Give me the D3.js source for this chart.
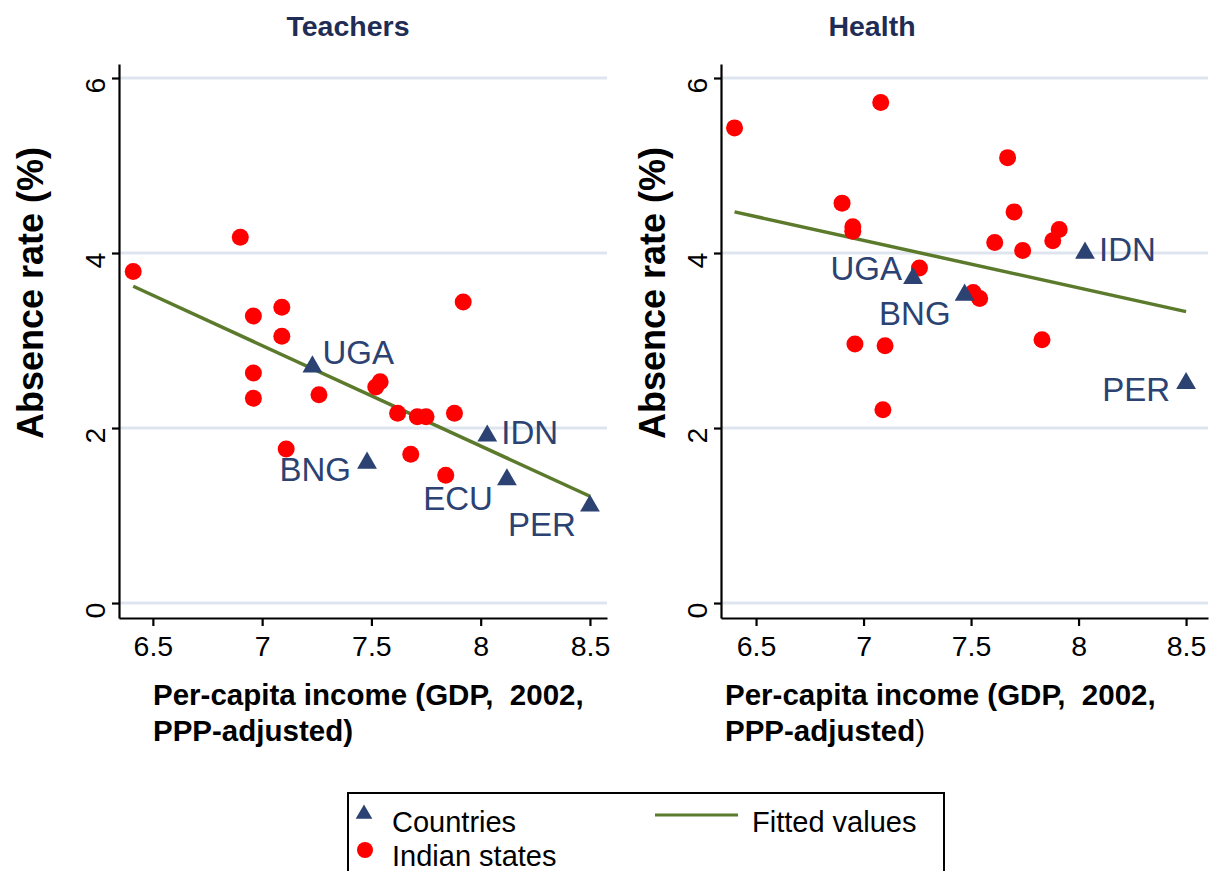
<!DOCTYPE html>
<html lang="en">
<head>
  <meta charset="UTF-8">
  <script src="https://cdnjs.cloudflare.com/ajax/libs/d3/7.8.5/d3.min.js"></script>
  <style>
    body { margin: 0; background: #fff; }
    text { font-family: "Liberation Sans", Arial, sans-serif; white-space: pre; }
  </style>
  <title>Absence rate vs income</title>
</head>
<body>
  <script>
    // Teachers panel
    const teachStatesX = [6.41, 6.90, 6.96, 7.09, 7.09, 6.96, 6.96, 7.92, 7.26, 7.52, 7.54, 7.62, 7.71, 7.75, 7.88, 7.11, 7.68, 7.84];
    const teachStatesY = [3.79, 4.18, 3.28, 3.38, 3.05, 2.63, 2.34, 3.44, 2.38, 2.47, 2.53, 2.17, 2.13, 2.13, 2.17, 1.76, 1.70, 1.46];
    const teachCountries = ["UGA", "BNG", "IDN", "ECU", "PER"];
    const teachCountryX = [7.23, 7.48, 8.03, 8.12, 8.50];
    const teachCountryY = [2.70, 1.60, 1.91, 1.41, 1.11];
    const teachLabelPos = [2, 8, 3, 7, 7];   // clock position of the label
    const teachFitX = [6.41, 8.50];
    const teachFitY = [3.62, 1.22];

    // Health panel
    const healthStatesX = [6.40, 7.08, 7.67, 6.90, 6.95, 6.95, 7.70, 7.91, 7.88, 7.61, 7.74, 7.26, 7.51, 7.54, 6.96, 7.10, 7.83, 7.09];
    const healthStatesY = [5.43, 5.72, 5.09, 4.57, 4.30, 4.25, 4.47, 4.27, 4.14, 4.12, 4.03, 3.83, 3.55, 3.48, 2.96, 2.94, 3.01, 2.21];
    const healthCountries = ["UGA", "BNG", "IDN", "PER"];
    const healthCountryX = [7.23, 7.47, 8.03, 8.50];
    const healthCountryY = [3.71, 3.52, 4.00, 2.51];
    const healthLabelPos = [9, 7, 3, 8];
    const healthFitX = [6.40, 8.50];
    const healthFitY = [4.47, 3.33];

    const xTicks = [6.5, 7, 7.5, 8, 8.5];
    const yTicks = [0, 2, 4, 6];

    const w = 1217;
    const h = 871;
    const navy = "#2b4272";
    const red = "#ff0000";
    const green = "#5b7a2c";
    const gridColor = "#dfe5ef";

    const svg = d3.select("body")
      .append("svg")
      .attr("width", w)
      .attr("height", h);

    // label offsets by clock position
    const labelOffsets = {
      2: { dx: 10, dy: -3, anchor: "start" },
      3: { dx: 14, dy: 8, anchor: "start" },
      7: { dx: -14, dy: 30, anchor: "end" },
      8: { dx: -16, dy: 18, anchor: "end" },
      9: { dx: -11, dy: 2, anchor: "end" }
    };

    function drawPanel(cfg) {
      const xScale = d3.scaleLinear().domain(cfg.xDomain).range([cfg.left, cfg.right]);
      const yScale = d3.scaleLinear().domain([-0.171, 6.16]).range([618, 64]);
      const g = svg.append("g");

      // gridlines
      g.selectAll(".grid")
        .data(yTicks)
        .enter()
        .append("line")
        .attr("x1", cfg.left)
        .attr("x2", cfg.right)
        .attr("y1", d => yScale(d))
        .attr("y2", d => yScale(d))
        .attr("stroke", gridColor)
        .attr("stroke-width", 3);

      const xAxis = d3.axisBottom(xScale).tickValues(xTicks).tickSize(8).tickSizeOuter(0).tickPadding(10).tickFormat(d3.format(""));
      const yAxis = d3.axisLeft(yScale).tickValues(yTicks).tickSize(7).tickSizeOuter(0).tickFormat(d3.format("d"));

      const gx = g.append("g")
        .attr("transform", "translate(0,618)")
        .call(xAxis);
      gx.selectAll("text").attr("font-size", 28.5).attr("fill", "#000").attr("font-family", "Liberation Sans, Arial, sans-serif");

      const gy = g.append("g")
        .attr("transform", "translate(" + cfg.left + ",0)")
        .call(yAxis);
      gy.selectAll("text")
        .attr("font-size", 28.5)
        .attr("fill", "#000")
        .attr("font-family", "Liberation Sans, Arial, sans-serif")
        .attr("text-anchor", "middle")
        .attr("transform", "rotate(-90)")
        .attr("x", -7)
        .attr("y", -14)
        .attr("dy", 0);

      [gx, gy].forEach(a => {
        a.select(".domain").attr("stroke", "#000").attr("stroke-width", 2.2);
        a.selectAll(".tick line").attr("stroke", "#000").attr("stroke-width", 2.2);
      });

      // panel title
      svg.append("text")
        .attr("x", cfg.titleX)
        .attr("y", 36)
        .attr("text-anchor", "middle")
        .attr("font-size", 28.5)
        .attr("font-weight", "bold")
        .attr("fill", "#1f2d55")
        .text(cfg.title);

      // y title
      svg.append("text")
        .attr("transform", "translate(" + cfg.yTitleX + ",293) rotate(-90)")
        .attr("text-anchor", "middle")
        .attr("font-size", 36)
        .attr("font-weight", "bold")
        .text("Absence rate (%)");

      // x title (two lines)
      const xt = svg.append("text")
        .attr("x", cfg.xTitleX)
        .attr("y", 705)
        .attr("font-size", 29.5)
        .attr("font-weight", "bold");
      xt.append("tspan").attr("x", cfg.xTitleX).attr("y", 705).text("Per-capita income (GDP,  2002,");
      const l2 = xt.append("tspan").attr("x", cfg.xTitleX).attr("y", 741);
      l2.append("tspan").text("PPP-adjusted");
      l2.append("tspan").attr("font-weight", cfg.plainParen ? "normal" : "bold").text(")");

      // fitted line
      const fit = cfg.fitX.map((x, i) => [x, cfg.fitY[i]]);
      g.append("path")
        .datum(fit)
        .attr("d", d3.line().x(d => xScale(d[0])).y(d => yScale(d[1])))
        .attr("stroke", green)
        .attr("stroke-width", 3.5)
        .attr("fill", "none");

      // Indian states
      g.selectAll(".state")
        .data(cfg.statesX.map((x, i) => ({ x: x, y: cfg.statesY[i] })))
        .enter()
        .append("circle")
        .attr("cx", d => xScale(d.x))
        .attr("cy", d => yScale(d.y))
        .attr("r", 8.5)
        .attr("fill", red);

      // countries
      const countries = cfg.countries.map((c, i) => ({ name: c, x: cfg.countryX[i], y: cfg.countryY[i], pos: cfg.labelPos[i] }));
      g.selectAll(".country")
        .data(countries)
        .enter()
        .append("path")
        .attr("d", d3.symbol(d3.symbolTriangle, 170))
        .attr("transform", d => "translate(" + xScale(d.x) + "," + yScale(d.y) + ")")
        .attr("fill", navy);

      g.selectAll(".clabel")
        .data(countries)
        .enter()
        .append("text")
        .attr("x", d => xScale(d.x) + labelOffsets[d.pos].dx)
        .attr("y", d => yScale(d.y) + labelOffsets[d.pos].dy)
        .attr("text-anchor", d => labelOffsets[d.pos].anchor)
        .attr("font-size", 33)
        .attr("fill", navy)
        .text(d => d.name);
    }

    drawPanel({
      title: "Teachers", titleX: 348, left: 119, right: 607, xDomain: [6.345, 8.578],
      yTitleX: 43, xTitleX: 153, plainParen: false,
      statesX: teachStatesX, statesY: teachStatesY,
      countries: teachCountries, countryX: teachCountryX, countryY: teachCountryY, labelPos: teachLabelPos,
      fitX: teachFitX, fitY: teachFitY
    });

    drawPanel({
      title: "Health", titleX: 872, left: 721, right: 1208, xDomain: [6.337, 8.602],
      yTitleX: 665, xTitleX: 725, plainParen: true,
      statesX: healthStatesX, statesY: healthStatesY,
      countries: healthCountries, countryX: healthCountryX, countryY: healthCountryY, labelPos: healthLabelPos,
      fitX: healthFitX, fitY: healthFitY
    });

    // legend
    const legend = svg.append("g");
    legend.append("rect")
      .attr("x", 348)
      .attr("y", 793)
      .attr("width", 596)
      .attr("height", 100)
      .attr("fill", "#fff")
      .attr("stroke", "#000")
      .attr("stroke-width", 2);
    legend.append("path")
      .attr("d", d3.symbol(d3.symbolTriangle, 120))
      .attr("transform", "translate(364,814)")
      .attr("fill", navy);
    legend.append("circle")
      .attr("cx", 365)
      .attr("cy", 850)
      .attr("r", 8)
      .attr("fill", red);
    legend.append("line")
      .attr("x1", 655)
      .attr("x2", 738)
      .attr("y1", 815)
      .attr("y2", 815)
      .attr("stroke", green)
      .attr("stroke-width", 3);
    const legendItems = [["Countries", 392, 832], ["Indian states", 392, 866], ["Fitted values", 752, 832]];
    legend.selectAll(".ltext")
      .data(legendItems)
      .enter()
      .append("text")
      .attr("x", d => d[1])
      .attr("y", d => d[2])
      .attr("font-size", 29)
      .text(d => d[0]);
  </script>
</body>
</html>
